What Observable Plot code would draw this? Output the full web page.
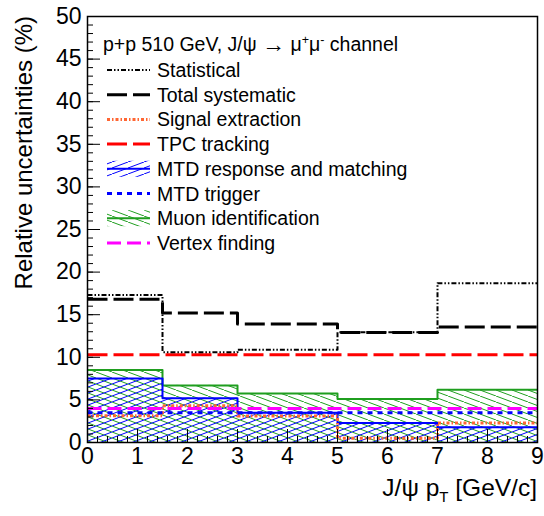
<!DOCTYPE html>
<html>
<head>
<meta charset="utf-8">
<script src="https://cdn.jsdelivr.net/npm/d3@7"></script>
<script src="https://cdn.jsdelivr.net/npm/@observablehq/plot@0.6"></script>
<style>
  body { margin: 0; background: #fff; }
  #chart svg { display: block; }
</style>
</head>
<body>
<div id="chart"></div>
<script>
// pT bin edges (GeV/c) and uncertainties (%) per bin
var binEdges = [0, 1.5, 3, 5, 7, 9]
var statistical = [17.3, 10.6, 10.9, 12.95, 18.7]
var totalSystematic = [16.8, 15.2, 13.9, 12.9, 13.55]
var signalExtraction = [3.15, 4.3, 3.1, 0.5, 2.3]
var tpcTracking = [10.3, 10.3, 10.3, 10.3, 10.3]
var mtdResponse = [7.5, 5.2, 3.5, 2.3, 1.8]
var mtdTrigger = [3.5, 3.5, 3.5, 3.5, 3.5]
var muonId = [8.5, 6.7, 5.75, 5.1, 6.2]
var vertexFinding = [4.0, 4.0, 4.0, 4.0, 4.0]

var xTicks = d3.range(0, 10)
var xMinorTicks = d3.range(0, 46).map(i => i / 5)
var yTicks = d3.range(0, 51, 5)
var yMinorTicks = d3.range(0, 51)

var green = "#1f9e1f", blue = "#0000ff", orange = "#ff6633", red = "#ff0000", magenta = "#ff00ff"

// step outline: one point per edge, last value repeated at the end
function steps(values) {
  return binEdges.map((x, i) => ({x: x, y: values[Math.min(i, values.length - 1)]}))
}
function bins(values) {
  return values.map((v, i) => ({x1: binEdges[i], x2: binEdges[i + 1], y: v}))
}
function stepLine(values, opts) {
  return Plot.line(steps(values), Object.assign({x: "x", y: "y", curve: "step-after", strokeLinecap: "butt"}, opts))
}

var chart = Plot.plot({
  width: 544,
  height: 516,
  marginLeft: 87,
  marginRight: 7,
  marginTop: 16,
  marginBottom: 74,
  x: {domain: [0, 9]},
  y: {domain: [0, 50]},
  style: {fontFamily: "'Liberation Sans', Arial, sans-serif", fontSize: 23, color: "black", background: "white"},
  marks: [
    Plot.rect(bins(muonId), {x1: "x1", x2: "x2", y1: 0, y2: "y", fill: "url(#hatchGreen)"}),
    Plot.rect(bins(mtdResponse), {x1: "x1", x2: "x2", y1: 0, y2: "y", fill: "url(#hatchBlue)"}),
    stepLine(muonId, {stroke: green, strokeWidth: 2}),
    stepLine(mtdResponse, {stroke: blue, strokeWidth: 2}),
    stepLine(signalExtraction, {stroke: orange, strokeWidth: 3, strokeDasharray: "3,2,1.5,2"}),
    stepLine(vertexFinding, {stroke: magenta, strokeWidth: 3, strokeDasharray: "14,6"}),
    stepLine(mtdTrigger, {stroke: blue, strokeWidth: 3, strokeDasharray: "5,5"}),
    stepLine(tpcTracking, {stroke: red, strokeWidth: 3, strokeDasharray: "20,6"}),
    stepLine(totalSystematic, {stroke: "black", strokeWidth: 3, strokeDasharray: "20,6"}),
    stepLine(statistical, {stroke: "black", strokeWidth: 2, strokeDasharray: "5,2,1.5,2,1.5,2"}),
    // ROOT style ticks pointing inward (shifted back inside the frame)
    Plot.axisX({ticks: xMinorTicks, tickSize: 6, dy: -6, tickFormat: () => "", label: null, strokeWidth: 1}),
    Plot.axisX({ticks: xTicks, tickSize: 13, dy: -13, tickFormat: () => "", label: null, strokeWidth: 1}),
    Plot.axisX({ticks: xTicks, tickSize: 0, tickPadding: 5, tickFormat: d => d, label: null, fontSize: 23}),
    Plot.axisY({ticks: yMinorTicks, tickSize: 6, dx: 6, tickFormat: () => "", label: null, strokeWidth: 1}),
    Plot.axisY({ticks: yTicks, tickSize: 13, dx: 13, tickFormat: () => "", label: null, strokeWidth: 1}),
    Plot.axisY({ticks: yTicks, tickSize: 0, tickPadding: 6, tickFormat: d => d, label: null, fontSize: 23}),
    Plot.frame({stroke: "black", strokeWidth: 1.5})
  ]
})

var svg = d3.select(chart)
var defs = svg.insert("defs", ":first-child")
function hatch(id, color, path) {
  var p = defs.append("pattern").attr("id", id)
    .attr("patternUnits", "userSpaceOnUse").attr("width", 16).attr("height", 6)
  p.append("path").attr("d", path).attr("stroke", color).attr("stroke-width", 1).attr("fill", "none")
}
hatch("hatchGreen", green, "M-8,-3L24,9")
hatch("hatchBlue", blue, "M-8,9L24,-3")

// axis titles
svg.append("text")
  .attr("transform", "translate(32,16) rotate(-90)")
  .attr("text-anchor", "end")
  .attr("font-size", 24)
  .text("Relative uncertainties (%)")

var xt = svg.append("text")
  .attr("x", 537).attr("y", 496)
  .attr("text-anchor", "end")
  .attr("font-size", 24.5)
xt.append("tspan").text("J/\u03c8 p")
xt.append("tspan").attr("font-size", 15).attr("dy", 6).text("T")
xt.append("tspan").attr("dy", -6).text(" [GeV/c]")

// legend
var lg = svg.append("g").attr("font-size", 19.5).attr("text-anchor", "start")
var hd = lg.append("text").attr("x", 103).attr("y", 51).attr("font-size", 19.5)
hd.append("tspan").text("p+p 510 GeV, J/\u03c8 ")
hd.append("tspan").attr("font-size", 23).attr("dy", 1).text("\u2192")
hd.append("tspan").attr("dy", -1).text(" \u03bc")
hd.append("tspan").attr("font-size", 12.5).attr("dy", -7).text("+")
hd.append("tspan").attr("dy", 7).text("\u03bc")
hd.append("tspan").attr("font-size", 12.5).attr("dy", -7).text("-")
hd.append("tspan").attr("dy", 7).text(" channel")

var legendItems = [
  {label: "Statistical", stroke: "black", width: 2, dash: "5,2,1.5,2,1.5,2"},
  {label: "Total systematic", stroke: "black", width: 3, dash: "20,6"},
  {label: "Signal extraction", stroke: orange, width: 3, dash: "3,2,1.5,2"},
  {label: "TPC tracking", stroke: red, width: 3, dash: "20,6"},
  {label: "MTD response and matching", stroke: blue, width: 2, fill: "url(#hatchBlue)"},
  {label: "MTD trigger", stroke: blue, width: 3, dash: "5,5"},
  {label: "Muon identification", stroke: green, width: 2, fill: "url(#hatchGreen)"},
  {label: "Vertex finding", stroke: magenta, width: 3, dash: "14,6"}
]
legendItems.forEach((d, i) => {
  var cy = 70 + i * 24.7
  if (d.fill) {
    lg.append("rect").attr("x", 107).attr("y", cy - 8).attr("width", 43).attr("height", 16).attr("fill", d.fill)
  }
  lg.append("line").attr("x1", 107).attr("x2", 150).attr("y1", cy).attr("y2", cy)
    .attr("stroke", d.stroke).attr("stroke-width", d.width)
    .attr("stroke-dasharray", d.dash || null)
  lg.append("text").attr("x", 157).attr("y", cy + 7).text(d.label)
})

d3.select("#chart").append(() => chart)
</script>
</body>
</html>
